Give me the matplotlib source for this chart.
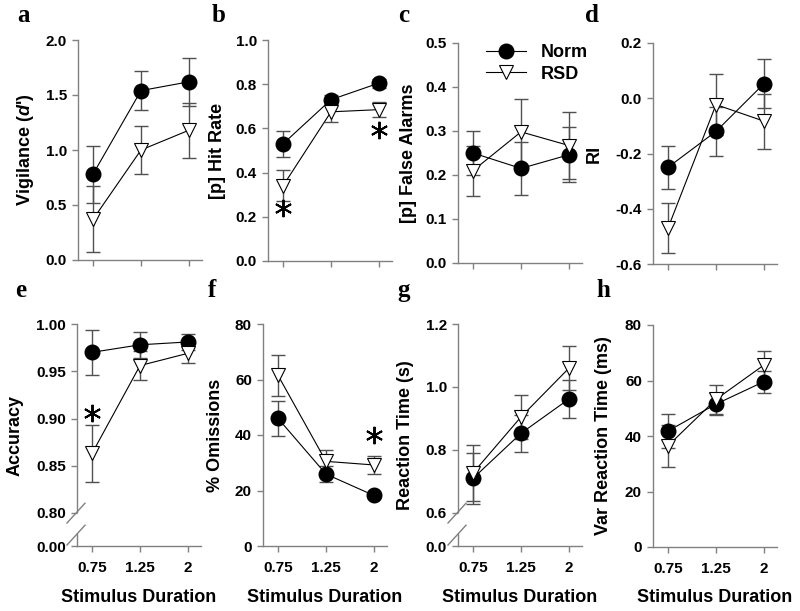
import numpy as np
import matplotlib
matplotlib.use("Agg")
import matplotlib.pyplot as plt

plt.rcParams['font.family'] = ['Liberation Sans', 'DejaVu Sans']
plt.rcParams['font.weight'] = 'bold'
plt.rcParams['mathtext.fontset'] = 'custom'
plt.rcParams['mathtext.it'] = 'Liberation Sans:italic:bold'
plt.rcParams['mathtext.rm'] = 'Liberation Sans:bold'

# ---------------- data ----------------
durations = ["0.75", "1.25", "2"]

vig_norm = [0.78, 1.54, 1.62]
vig_norm_err = [0.26, 0.18, 0.22]
vig_rsd = [0.37, 1.00, 1.18]
vig_rsd_err = [0.30, 0.22, 0.25]

hit_norm = [0.53, 0.73, 0.805]
hit_norm_err = [0.06, 0.02, 0.02]
hit_rsd = [0.34, 0.675, 0.685]
hit_rsd_err = [0.07, 0.045, 0.035]

fa_norm = [0.25, 0.215, 0.246]
fa_norm_err = [0.05, 0.06, 0.063]
fa_rsd = [0.21, 0.298, 0.267]
fa_rsd_err = [0.057, 0.075, 0.077]

ri_norm = [-0.25, -0.12, 0.053]
ri_norm_err = [0.077, 0.09, 0.088]
ri_rsd = [-0.47, -0.023, -0.083]
ri_rsd_err = [0.09, 0.11, 0.10]

acc_norm = [0.970, 0.978, 0.981]
acc_norm_err = [0.024, 0.014, 0.008]
acc_rsd = [0.863, 0.956, 0.969]
acc_rsd_err = [0.03, 0.015, 0.01]

om_norm = [46.0, 25.9, 18.2]
om_norm_err = [6.3, 3.0, 1.0]
om_rsd = [61.5, 30.5, 29.2]
om_rsd_err = [7.5, 4.0, 3.3]

rt_norm = [0.71, 0.853, 0.962]
rt_norm_err = [0.08, 0.058, 0.06]
rt_rsd = [0.727, 0.905, 1.06]
rt_rsd_err = [0.09, 0.07, 0.07]

vrt_norm = [41.8, 51.5, 59.6]
vrt_norm_err = [6.2, 4.0, 4.0]
vrt_rsd = [36.5, 53.2, 65.6]
vrt_rsd_err = [7.5, 5.2, 5.2]

# significance markers: (x index, y value)
sig_b = [(0, 0.24), (2, 0.593)]
sig_e = [(0, 0.906)]
sig_f = [(2, 40.0)]

W, H = 800, 611
fig = plt.figure(figsize=(W / 100, H / 100), dpi=100)

SPINE = '#808080'
ECOL = '#505050'


def rect(left, top, bottom, width=124):
    return [left / W, 1 - bottom / H, width / W, (bottom - top) / H]


def broken_scale(lo, gap):
    def fwd(v):
        v = np.asarray(v, dtype=float)
        return np.where(v <= lo, v / lo * gap, gap + (v - lo))

    def inv(u):
        u = np.asarray(u, dtype=float)
        return np.where(u <= gap, u / gap * lo, lo + (u - gap))
    return fwd, inv


panels = [
    dict(letter='a', rect=rect(78, 40, 260), norm=vig_norm, nerr=vig_norm_err, rsd=vig_rsd, rerr=vig_rsd_err,
         ylim=(0, 2.0), yticks=[0, 0.5, 1.0, 1.5, 2.0], fmt='{:.1f}', ylabel="Vigilance ($\\mathit{d}$')",
         lx=-0.42, bottom=False, brk=None, sig=[]),
    dict(letter='b', rect=rect(268, 40, 261), norm=hit_norm, nerr=hit_norm_err, rsd=hit_rsd, rerr=hit_rsd_err,
         ylim=(0, 1.0), yticks=[0, 0.2, 0.4, 0.6, 0.8, 1.0], fmt='{:.1f}', ylabel='[p] Hit Rate',
         lx=-0.41, bottom=False, brk=None, sig=sig_b),
    dict(letter='c', rect=rect(458, 43, 263), norm=fa_norm, nerr=fa_norm_err, rsd=fa_rsd, rerr=fa_rsd_err,
         ylim=(0, 0.5), yticks=[0, 0.1, 0.2, 0.3, 0.4, 0.5], fmt='{:.1f}', ylabel='[p] False Alarms',
         lx=-0.40, bottom=False, brk=None, sig=[]),
    dict(letter='d', rect=rect(653, 43, 264), norm=ri_norm, nerr=ri_norm_err, rsd=ri_rsd, rerr=ri_rsd_err,
         ylim=(-0.6, 0.2), yticks=[-0.6, -0.4, -0.2, 0.0, 0.2], fmt='{:.1f}', ylabel='RI',
         lx=-0.476, bottom=False, brk=None, sig=[]),
    dict(letter='e', rect=rect(77, 324, 546), norm=acc_norm, nerr=acc_norm_err, rsd=acc_rsd, rerr=acc_rsd_err,
         ylim=(0, 1.0), yticks=[0.0, 0.80, 0.85, 0.90, 0.95, 1.00], fmt='{:.2f}', ylabel='Accuracy',
         lx=-0.50, bottom=True, brk=(0.8, 33 / 189 * 0.2), sig=sig_e),
    dict(letter='f', rect=rect(263, 324, 546), norm=om_norm, nerr=om_norm_err, rsd=om_rsd, rerr=om_rsd_err,
         ylim=(0, 80), yticks=[0, 20, 40, 60, 80], fmt='{:.0f}', ylabel='% Omissions',
         lx=-0.387, bottom=True, brk=None, sig=sig_f),
    dict(letter='g', rect=rect(458, 324, 546), norm=rt_norm, nerr=rt_norm_err, rsd=rt_rsd, rerr=rt_rsd_err,
         ylim=(0, 1.2), yticks=[0.0, 0.6, 0.8, 1.0, 1.2], fmt='{:.1f}', ylabel='Reaction Time (s)',
         lx=-0.427, bottom=True, brk=(0.6, 33 / 189 * 0.6), sig=[]),
    dict(letter='h', rect=rect(653, 325, 547), norm=vrt_norm, nerr=vrt_norm_err, rsd=vrt_rsd, rerr=vrt_rsd_err,
         ylim=(0, 80), yticks=[0, 20, 40, 60, 80], fmt='{:.0f}', ylabel='Var Reaction Time (ms)',
         lx=-0.403, bottom=True, brk=None, sig=[]),
]

letter_pos = {'a': (17, 22), 'b': (212, 22), 'c': (398, 22), 'd': (585, 22),
              'e': (15, 297), 'f': (208, 297), 'g': (397, 297), 'h': (596, 297)}

x = np.arange(len(durations))
legend_ax = None
for p in panels:
    ax = fig.add_axes(p['rect'])
    if p['brk'] is not None:
        f, inv = broken_scale(*p['brk'])
        ax.set_yscale('function', functions=(f, inv))
    ax.errorbar(x, p['norm'], yerr=p['nerr'], fmt='none', ecolor=ECOL, elinewidth=1,
                capsize=5, capthick=1, zorder=2)
    ax.errorbar(x, p['rsd'], yerr=p['rerr'], fmt='none', ecolor=ECOL, elinewidth=1,
                capsize=5, capthick=1, zorder=2)
    ax.plot(x, p['norm'], '-', color='black', lw=0.8, marker='o', ms=10.5,
            mfc='black', mec='black', zorder=3, label='Norm')
    ax.plot(x, p['rsd'], '-', color='black', lw=0.8, marker='v', ms=10.5,
            mfc='white', mec='black', mew=0.8, zorder=4, label='RSD')
    for (xi, yv) in p['sig']:
        ax.plot([x[xi]], [yv], linestyle='none', marker=(6, 2, 0), ms=12.5, mew=1.4,
                color='black', zorder=5, clip_on=False)

    ax.set_xlim(-15 / 48, 2 + 13 / 48)
    ax.set_ylim(*p['ylim'])
    ax.set_yticks(p['yticks'])
    ax.set_yticklabels([p['fmt'].format(v) for v in p['yticks']])
    ax.set_xticks(x)
    if p['bottom']:
        ax.set_xticklabels(durations)
        ax.set_xlabel('Stimulus Duration', fontsize=13, fontweight='bold')
        ax.xaxis.label.set_va('center')
        ax.xaxis.set_label_coords(0.5, -51 / 222)
    else:
        ax.set_xticklabels([])

    for s in ['top', 'right']:
        ax.spines[s].set_visible(False)
    for s in ['left', 'bottom']:
        ax.spines[s].set_color(SPINE)
        ax.spines[s].set_linewidth(1)
    ax.tick_params(direction='out', length=4, width=1, color=SPINE, labelcolor='black',
                   labelsize=11, pad=4)
    ax.tick_params(axis='x', pad=7)

    ax.set_ylabel(p['ylabel'], fontsize=13, fontweight='bold')
    ax.yaxis.label.set_va('center')
    ax.yaxis.label.set_ha('center')
    ax.yaxis.set_label_coords(p['lx'], 0.5)

    if p['brk'] is not None:
        ax.spines['left'].set_visible(False)
        axh = 222.0
        up = 34 / axh
        lowtop = 12 / axh
        ax.plot([0, 0], [up, 1], transform=ax.transAxes, color=SPINE, lw=1, clip_on=False)
        ax.plot([0, 0], [0, lowtop], transform=ax.transAxes, color=SPINE, lw=1, clip_on=False)
        dx, dy = 10 / 124, 11 / axh
        for yc in (up, lowtop):
            ax.plot([-dx, dx * 0.8], [yc - dy, yc + dy * 0.8], transform=ax.transAxes,
                    color=SPINE, lw=1, clip_on=False)

    lx, ly = letter_pos[p['letter']]
    fig.text(lx / W, 1 - ly / H, p['letter'], fontsize=18, fontweight='bold',
             family='Liberation Serif', ha='left', va='baseline')

    if p['letter'] == 'c':
        legend_ax = ax

leg = legend_ax.legend(loc='upper left', bbox_to_anchor=(0.225, 0.995), frameon=False,
                       handlelength=2.2, handletextpad=0.85, labelspacing=0.25,
                       borderpad=0, borderaxespad=0, prop={'weight': 'bold', 'size': 13})

fig.savefig('out.png', dpi=100)
